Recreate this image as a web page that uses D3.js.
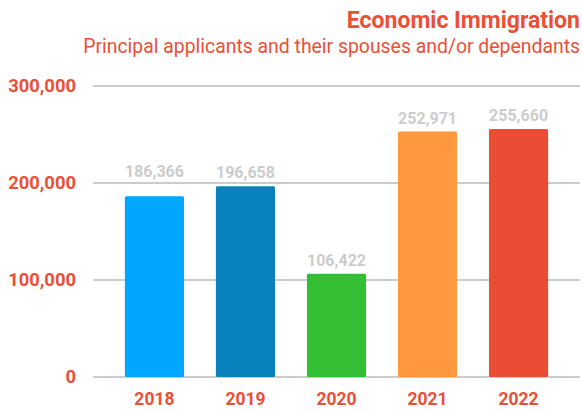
<!DOCTYPE html>
<html>
<head>
<meta charset="utf-8">
<script src="https://cdn.jsdelivr.net/npm/d3@7"></script>
<style>
body { margin: 0; background: #fff; }
text { font-family: Roboto, sans-serif; }
</style>
</head>
<body>
<div id="chart"></div>
<script>
var years = ['2018', '2019', '2020', '2021', '2022'];
var values = [186366, 196658, 106422, 252971, 255660];
var barColors = ['#00a6ff', '#0981bb', '#33bf33', '#ff9940', '#eb4c34'];
var yTicks = [0, 100000, 200000, 300000];

function init() {
    'use strict';
    var red = '#ea5037';
    var svg = d3.select('#chart').append('svg')
        .attr('width', 582).attr('height', 411);

    var x = d3.scaleBand().domain(years).range([93, 580]).padding(0.35);
    var y = d3.scaleLinear().domain([0, 300000]).range([377, 86]);

    // title
    svg.append('text').attr('x', 580).attr('y', 28).attr('text-anchor', 'end')
        .attr('fill', red).attr('font-size', 23).attr('font-weight', 'bold')
        .text('Economic Immigration');
    svg.append('text').attr('x', 580).attr('y', 53).attr('text-anchor', 'end')
        .attr('fill', red).attr('font-size', 19.4)
        .text('Principal applicants and their spouses and/or dependants');

    // gridlines
    svg.append('g').selectAll('line').data(yTicks).enter().append('line')
        .attr('x1', 93).attr('x2', 580)
        .attr('y1', function (d) { return y(d); })
        .attr('y2', function (d) { return y(d); })
        .attr('stroke', '#cccccc').attr('stroke-width', 2);

    var yAxis = d3.axisLeft(y).tickValues(yTicks).tickSize(0).tickPadding(0)
        .tickFormat(d3.format(','));
    var gy = svg.append('g').attr('transform', 'translate(76,0)').call(yAxis);
    gy.select('.domain').remove();
    gy.selectAll('text').attr('fill', red).attr('font-size', 18.4)
        .attr('font-weight', 'bold').attr('font-family', 'Roboto, sans-serif');

    // bars
    svg.append('g').selectAll('rect').data(values).enter().append('rect')
        .attr('x', function (d, i) { return x(years[i]); })
        .attr('y', function (d) { return y(d); })
        .attr('width', x.bandwidth())
        .attr('height', function (d) { return y(0) - y(d); })
        .attr('rx', 1.5)
        .attr('fill', function (d, i) { return barColors[i]; });

    // value labels, pushed above a gridline when they would sit on it
    function labelY(d) {
        var base = y(d) - 8;
        yTicks.forEach(function (t) {
            var gy = y(t);
            if (gy < base + 1 && gy > base - 12) { base = gy - 6; }
        });
        return base;
    }
    svg.append('g').selectAll('text').data(values).enter().append('text')
        .attr('x', function (d, i) { return x(years[i]) + x.bandwidth() / 2; })
        .attr('y', labelY)
        .attr('text-anchor', 'middle')
        .attr('fill', '#cccccc').attr('font-size', 16).attr('font-weight', 'bold')
        .text(function (d) { return d3.format(',')(d); });

    // x axis
    var xAxis = d3.axisBottom(x).tickSize(0).tickPadding(0);
    var gx = svg.append('g').attr('transform', 'translate(0,393)').call(xAxis);
    gx.select('.domain').remove();
    gx.selectAll('text').attr('fill', red).attr('font-size', 17.5)
        .attr('font-weight', 'bold').attr('font-family', 'Roboto, sans-serif');
}

window.onload = init;
</script>
</body>
</html>
